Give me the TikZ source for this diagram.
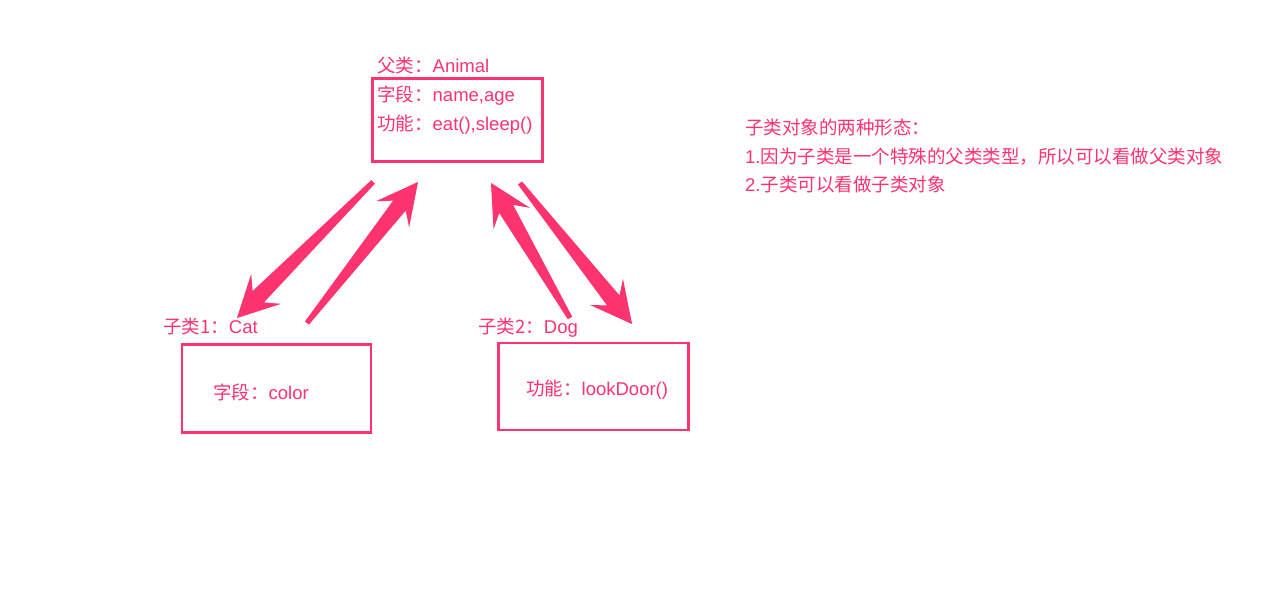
\documentclass[tikz,border=0pt]{standalone}
\usepackage{fontspec}
\setmainfont{Liberation Sans}
\newfontfamily\cjk{Noto Sans CJK SC}
\usetikzlibrary{calc}
\definecolor{UMLPink}{HTML}{FF3370}
% tapered arrow from tail #1 to tip #2
\newcommand{\fatarrow}[2]{%
  \coordinate (neck) at ($(#2)!30pt!(#1)$);
  \coordinate (barb) at ($(#2)!41pt!(#1)$);
  \fill[black, opacity=0.15, shift={(1.5,1.5)}] ($(#1)!2.5pt!90:(#2)$) -- ($(neck)!8pt!90:(#2)$) -- ($(barb)!21pt!90:(#2)$) -- (#2)
    -- ($(barb)!21pt!-90:(#2)$) -- ($(neck)!8pt!-90:(#2)$) -- ($(#1)!2.5pt!-90:(#2)$) -- cycle;
  \fill[UMLPink] ($(#1)!2.5pt!90:(#2)$) -- ($(neck)!8pt!90:(#2)$) -- ($(barb)!21pt!90:(#2)$) -- (#2)
    -- ($(barb)!21pt!-90:(#2)$) -- ($(neck)!8pt!-90:(#2)$) -- ($(#1)!2.5pt!-90:(#2)$) -- cycle;
}
\tikzset{
  txt/.style={anchor=base west, inner sep=0pt, text=UMLPink, font=\fontsize{18.5}{22}\selectfont},
  classbox/.style={draw=UMLPink, line width=2.8pt, inner sep=0pt}
}

\begin{document}
\begin{tikzpicture}[x=1pt, y=-1pt]
  \useasboundingbox (0,0) rectangle (1280,613);
  \fill[white] (0,0) rectangle (1280,613);

  % parent class
  \node[txt] (animaltitle) at (377,72) {{\cjk 父类：}Animal};
  \node[classbox, minimum width=170pt, minimum height=83pt] (animal) at (457.5,120) {};
  \node[txt] (animalfields) at (377,101) {{\cjk 字段：}name,age};
  \node[txt] (animalmethods) at (377,130) {{\cjk 功能：}eat(),sleep()};

  % sub class 1
  \node[txt] (cattitle) at (163,333) {{\cjk 子类1：}Cat};
  \node[classbox, minimum width=189pt, minimum height=88pt] (cat) at (276.5,388.5) {};
  \node[txt] (catfields) at (213,399) {{\cjk 字段：}color};

  % sub class 2
  \node[txt] (dogtitle) at (478,333) {{\cjk 子类2：}Dog};
  \node[classbox, minimum width=190pt, minimum height=87pt] (dog) at (593.5,386.5) {};
  \node[txt] (dogmethods) at (526,395) {{\cjk 功能：}lookDoor()};

  % arrow ends
  \coordinate (downcat) at (373,182);
  \coordinate (downcattip) at (237,318);
  \coordinate (upcat) at (307,323);
  \coordinate (upcattip) at (418,182);
  \coordinate (updog) at (570,318);
  \coordinate (updogtip) at (491,183);
  \coordinate (downdog) at (520,183);
  \coordinate (downdogtip) at (632,324);
  \fatarrow{downcat}{downcattip}
  \fatarrow{upcat}{upcattip}
  \fatarrow{updog}{updogtip}
  \fatarrow{downdog}{downdogtip}

  % note
  \node[txt] (note1) at (745,134) {\cjk 子类对象的两种形态：};
  \node[txt] (note2) at (745,163) {1.{\cjk 因为子类是一个特殊的父类类型，所以可以看做父类对象}};
  \node[txt] (note3) at (745,191) {2.{\cjk 子类可以看做子类对象}};
\end{tikzpicture}
\end{document}
